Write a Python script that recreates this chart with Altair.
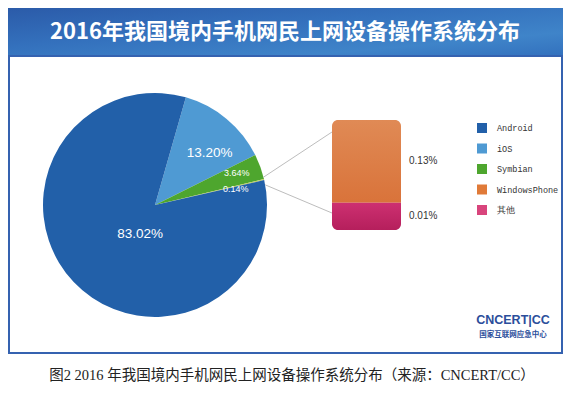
import math
import pandas as pd
import altair as alt

# ---------------- data ----------------
pie_os = ["iOS", "Symbian", "WindowsPhone+其他", "Android"]
pie_share = [13.20, 3.64, 0.14, 83.02]
pie_label = ["13.20%", "3.64%", "0.14%", "83.02%"]

bar_os = ["WindowsPhone", "其他"]
bar_share = [0.13, 0.01]
bar_label = ["0.13%", "0.01%"]

legend_names = ["Android", "iOS", "Symbian", "WindowsPhone", "其他"]
legend_colors = ["#2260a9", "#4f9ad3", "#4ea62e", "#e07a38", "#d8457c"]
sliver_color = "#bccb5c"

title_text = "2016年我国境内手机网民上网设备操作系统分布"
caption_text = "图2 2016 年我国境内手机网民上网设备操作系统分布（来源：CNCERT/CC）"

# ---------------- layout ----------------
W, H = 555, 381
CX, CY, R = 147, 197, 112
START_DEG = 16
E = 0.53

pie_df = pd.DataFrame({"os": pie_os, "share": pie_share, "label": pie_label,
                       "ord": list(range(len(pie_os)))})
bar_df = pd.DataFrame({"os": bar_os, "share": bar_share, "label": bar_label})
one = pd.DataFrame({"k": [0]})

theta_scale = alt.Scale(domain=[0, 100],
                        range=[math.radians(START_DEG), math.radians(START_DEG) + 2 * math.pi])

# banner
banner = alt.Chart(one).mark_rect(
    fill=alt.LinearGradient(
        gradient="linear",
        stops=[alt.GradientStop(color="#2b5ba9", offset=0),
               alt.GradientStop(color="#3471bd", offset=0.4),
               alt.GradientStop(color="#3f84c9", offset=0.75),
               alt.GradientStop(color="#3270bd", offset=1)],
        x1=0, x2=1, y1=0, y2=1)
).encode(x=alt.value(0), x2=alt.value(W), y=alt.value(0), y2=alt.value(49))

title = alt.Chart(one).mark_text(
    text=title_text, font="Noto Sans CJK SC", fontWeight="bold", fontSize=22,
    color="white"
).encode(x=alt.value(277), y=alt.value(24))

frame = alt.Chart(one).mark_rect(
    fillOpacity=0, stroke="#3562b0", strokeWidth=2
).encode(x=alt.value(1), x2=alt.value(W - 1), y=alt.value(48), y2=alt.value(345))

# pie
base_pie = alt.Chart(pie_df).transform_stack(
    stack="share", as_=["t0", "t1"], groupby=[],
    sort=[alt.SortField("ord", order="ascending")]
).transform_calculate(tm="(datum.t0 + datum.t1) / 2")

arcs = base_pie.mark_arc(outerRadius=R).encode(
    theta=alt.Theta("t0:Q", scale=theta_scale),
    theta2="t1:Q",
    color=alt.Color(
        "os:N",
        scale=alt.Scale(domain=legend_names + ["WindowsPhone+其他"],
                        range=legend_colors + [sliver_color]),
        legend=alt.Legend(values=legend_names, orient="none", legendX=469, legendY=115,
                          title=None, symbolType="square", symbolSize=100,
                          symbolStrokeWidth=0, labelFont="Liberation Mono",
                          labelFontSize=8.5, labelColor="#333333", rowPadding=10.5,
                          labelOffset=10, padding=0),
    ),
    x=alt.value(CX), y=alt.value(CY),
)

label_specs = [
    ("Android", 30, 7, 8, 13.5),
    ("iOS", 76, 6, 6, 13.5),
    ("Symbian", 87, 0, -2, 9),
    ("WindowsPhone+其他", 83, 0, 3, 9),
]
pie_labels = []
for name, rr, ddx, ddy, fs in label_specs:
    pie_labels.append(
        base_pie.transform_filter(alt.datum.os == name).mark_text(
            radius=rr, dx=ddx, dy=ddy, fontSize=fs, color="white", font="Liberation Sans"
        ).encode(theta=alt.Theta("tm:Q", scale=theta_scale), text="label:N",
                 x=alt.value(CX), y=alt.value(CY))
    )

# connector lines
cum_before = sum(pie_share[:2])
a0 = math.radians(START_DEG + cum_before * 3.6 - 1.0)
a1 = math.radians(START_DEG + (cum_before + pie_share[2]) * 3.6 + 2.5)
BX0, BX1 = 324, 393
lines = []
for ang, ty in [(a0, 124), (a1, 205)]:
    lines.append(alt.Chart(one).mark_rule(color="#bdbdbd", strokeWidth=1).encode(
        x=alt.value(CX + R * math.sin(ang)), y=alt.value(CY - R * math.cos(ang)),
        x2=alt.value(BX0), y2=alt.value(ty)))

# stacked bar
yscale = alt.Scale(type="pow", exponent=E, domain=[0, 0.14], range=[222, 112])
base_bar = alt.Chart(bar_df).transform_stack(
    stack="share", as_=["b0", "b1"], groupby=[],
    sort=[alt.SortField("share", order="ascending")]
).transform_calculate(
    bm=f"pow((pow(datum.b0, {E}) + pow(datum.b1, {E})) / 2, {1 / E})"
)

bar_top = base_bar.transform_filter(alt.datum.os == "WindowsPhone").mark_rect(
    cornerRadiusTopLeft=6, cornerRadiusTopRight=6,
    fill=alt.LinearGradient(gradient="linear",
                            stops=[alt.GradientStop(color="#e08a55", offset=0),
                                   alt.GradientStop(color="#d9733a", offset=1)],
                            x1=0, x2=0, y1=0, y2=1)
).encode(x=alt.value(BX0), x2=alt.value(BX1),
         y=alt.Y("b0:Q", scale=yscale, axis=None), y2="b1:Q")

bar_bot = base_bar.transform_filter(alt.datum.os == "其他").mark_rect(
    cornerRadiusBottomLeft=6, cornerRadiusBottomRight=6,
    fill=alt.LinearGradient(gradient="linear",
                            stops=[alt.GradientStop(color="#cd3071", offset=0),
                                   alt.GradientStop(color="#b51f5c", offset=1)],
                            x1=0, x2=0, y1=0, y2=1)
).encode(x=alt.value(BX0), x2=alt.value(BX1),
         y=alt.Y("b0:Q", scale=yscale, axis=None), y2="b1:Q")

bar_text = base_bar.mark_text(align="left", fontSize=10, color="#333333",
                              font="Liberation Sans").encode(
    x=alt.value(401), y=alt.Y("bm:Q", scale=yscale, axis=None), text="label:N")

# logo
logo1 = alt.Chart(one).mark_text(text="CNCERT|CC", font="Liberation Sans", fontWeight="bold",
                                 fontSize=12.5, color="#2b4e9b").encode(
    x=alt.value(505), y=alt.value(312))
logo2 = alt.Chart(one).mark_text(text="国家互联网应急中心", font="Noto Sans CJK SC",
                                 fontWeight="bold", fontSize=7.5, color="#2b4e9b").encode(
    x=alt.value(505), y=alt.value(327))

caption = alt.Chart(one).mark_text(text=caption_text,
                                   font="Liberation Serif, Noto Sans CJK SC",
                                   fontSize=14.5, color="#222222").encode(
    x=alt.value(284), y=alt.value(368))

chart = alt.layer(
    banner, title, frame, arcs, *pie_labels, *lines, bar_top, bar_bot, bar_text,
    logo1, logo2, caption
).properties(
    width=W, height=H, autosize=alt.AutoSizeParams(type="none"), padding=0
).configure_view(stroke=None)

chart.save("out.html", embed_options={"renderer": "svg", "actions": False})
